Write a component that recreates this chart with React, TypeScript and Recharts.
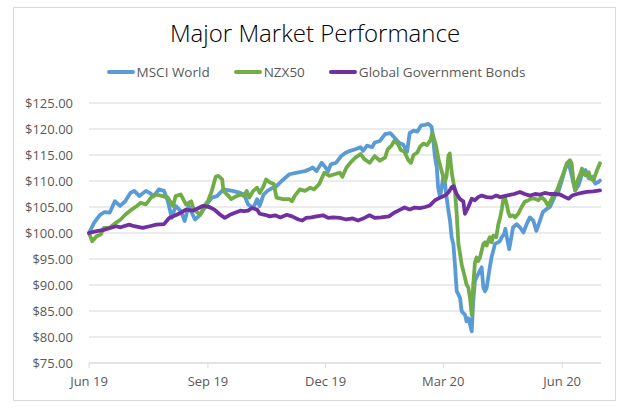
import { CartesianGrid, Line, LineChart, XAxis, YAxis } from "recharts";

// days counted from 1 Jun 2019
const tickDays = [0, 92, 183, 274, 366];
const tickLabels = ["Jun 19", "Sep 19", "Dec 19", "Mar 20", "Jun 20"];
const priceTicks = [75, 80, 85, 90, 95, 100, 105, 110, 115, 120, 125];

const msciWorld: [number, number][] = [
    [0, 100], [4, 102], [8.5, 103.5], [12, 104], [16, 103.9], [20, 106.1], [24, 105.2], [28, 106.1],
    [32, 107.7], [35, 108.1], [39, 107.1], [44, 108.1], [47, 107.7], [50, 107.1], [54, 108.4], [58, 108.1],
    [61, 106.1], [64, 102.9], [67, 105.2], [71, 104.2], [74, 102.3], [77, 105.2], [82, 102.6], [86, 103.5],
    [91, 105.5], [95, 106.8], [99, 107.1], [104, 108.4], [111, 108.1], [117, 107.7], [120, 107.4], [123, 105.5],
    [127, 104.8], [130, 106.5], [132, 105.2], [135, 107.4], [138, 108.1], [142, 108.7], [145, 109], [149, 110],
    [155, 111.3], [161, 111.6], [167, 111.9], [171, 112.3], [173, 112.6], [176, 111.9], [180, 113.5], [182, 112.9],
    [185, 111.9], [187, 113.2], [191, 113.5], [195, 114.8], [199, 115.5], [202, 115.8], [206, 116.1], [210, 116.5],
    [212, 115.8], [215, 116.8], [219, 116.5], [221, 117.4], [225, 117.7], [229, 119], [233, 119.2], [236, 118.4],
    [240, 117.3], [243, 117], [246, 115.6], [248, 119.2], [251, 119.7], [254, 119.5], [257, 120.7], [260, 120.8],
    [262.5, 121], [265, 120.4], [266, 118.5], [267.6, 114.6], [269, 112.6], [270, 108.8], [271.5, 106.9], [272.8, 108.8],
    [274, 110.8], [275.3, 109.5], [276.6, 106.9], [278, 104.3], [279.2, 102.4], [280.5, 99.1], [281.8, 97.9], [283, 94],
    [284.4, 88.8], [285.7, 88.2], [287, 87.5], [288.2, 85], [289.5, 84.6], [290.8, 84.3], [292, 83], [293.4, 83.6],
    [294.7, 82.4], [296, 81.1], [297.2, 86.9], [298.5, 90.8], [299.8, 91.5], [301, 92.1], [302.4, 92.8], [303.7, 93.4],
    [305, 89.5], [306.3, 88.8], [307.6, 89.5], [308.8, 91.5], [310, 93.4], [311.4, 95.4], [312.7, 96.6], [314, 97.9],
    [317, 98.3], [318, 98.5], [319.3, 99.2], [321, 99.8], [322, 100.8], [323.7, 98.5], [325, 96.9], [328, 101.1],
    [330.8, 101.7], [333.3, 101.1], [336, 100.1], [338.5, 101.7], [341, 103], [343.6, 102.4], [346, 100.4], [348.8, 102.4],
    [351, 104], [353.9, 104.6], [356.5, 105], [359, 106.3], [360.4, 107.2], [363, 107.9], [365.7, 110.1], [368.3, 112.4],
    [371, 113.4], [373.6, 110.8], [376, 108.2], [378.7, 109.2], [381, 111.1], [384, 112.1], [386.5, 110.5], [389, 110.8],
    [391.6, 109.5], [394, 109.8], [395.2, 110.1],
];

const nzx50: [number, number][] = [
    [0, 100], [2.5, 98.4], [6, 99.4], [9, 99.7], [11.5, 101], [16, 101], [21, 102], [24.5, 102.6],
    [28, 103.5], [33, 104.5], [37, 105.2], [40, 105.8], [44, 105.5], [48, 106.8], [52, 107.4], [57, 107.1],
    [61, 106.8], [65, 105.2], [67, 107.1], [71, 107.4], [75, 105.5], [79, 106.1], [81, 104.5], [86, 103.5],
    [90, 105.5], [92, 106.1], [95, 108.1], [98, 110.8], [100, 111], [103, 110.3], [104, 108.1], [108, 107.1],
    [110, 106.5], [114, 107.1], [118, 107.4], [120, 107.1], [122, 108.1], [124, 106.8], [127, 108.1], [130, 108.7],
    [132, 107.7], [135, 109], [137, 110.3], [140, 109.7], [143, 109.4], [145, 106.8], [150, 106.5], [155, 106.5],
    [157, 106.1], [159, 107.1], [163, 108.4], [167, 108.1], [171, 108.7], [174, 108.4], [178, 109.4], [182, 111.6],
    [186, 111], [190, 111.3], [194, 111.6], [196, 110.8], [199, 112.5], [202, 113.5], [206, 114.5], [210, 115.2],
    [213, 114.2], [217, 113.5], [221, 114.8], [225, 113.9], [229, 114.5], [231, 116.1], [234, 116.8], [236, 117.7],
    [239, 117.1], [241, 116], [244, 115.6], [247, 114], [249, 113.5], [251, 115], [254, 115.5], [256, 116.6],
    [258.8, 117.2], [261.4, 116.9], [264, 117.8], [265.5, 119.2], [268, 117.2], [270.5, 114], [273, 111.7], [275.3, 109.8],
    [276.6, 111], [278, 114.9], [279, 115.3], [280.5, 111.7], [281.8, 109.8], [283, 108.2], [284.4, 103.7], [285.7, 97.9],
    [287, 96], [288.2, 94], [289.5, 92.7], [290.8, 91.4], [292, 90.1], [293.4, 89.5], [294.7, 87.5], [296, 84.3],
    [297.2, 90.1], [298.5, 94.3], [299.8, 95.3], [301, 94.6], [302.4, 95.3], [303.7, 96.6], [305, 97.9], [306.3, 98.2],
    [307.6, 97.6], [308.8, 98.5], [310, 99.2], [311.4, 98.2], [312.7, 99.5], [315, 99.2], [316.6, 101.7], [318, 103],
    [319.3, 104.6], [320.5, 106.6], [321.7, 106.9], [323, 105.6], [324.3, 104], [325.6, 103.2], [328, 103.4], [329.5, 103],
    [332, 103.7], [334.6, 105], [337, 106], [340, 106.3], [342, 106.6], [345, 106.6], [347.5, 106.3], [350, 106.9],
    [352.6, 106.3], [355, 105.3], [356.5, 105.9], [359, 107.2], [362, 108.2], [364.3, 109.8], [366.9, 111.4], [369.5, 113.4],
    [372, 114], [373.3, 113.4], [374.6, 110.1], [376, 108.2], [377.4, 109.8], [380, 111.4], [381.3, 112.4], [382.6, 111.4],
    [384, 111.1], [386.5, 111.7], [387.8, 110.5], [390, 110.1], [393, 112.1], [395.2, 113.4],
];

const govBonds: [number, number][] = [
    [0, 100], [5, 100.3], [11.5, 100.6], [17, 101], [21, 101.3], [24.5, 101.1], [31, 101.6], [35, 101.3],
    [41.5, 101], [47, 101.3], [52, 101.6], [58, 101.7], [62, 102.9], [67, 103.4], [71, 103.9], [75, 104.5],
    [80, 104.3], [84, 104.7], [88, 105.2], [93, 105], [97, 104.5], [101, 103.6], [105, 102.9], [109, 103.5],
    [113, 103.9], [117, 104.3], [120, 104.2], [123, 104.3], [126, 104.8], [130, 104.5], [132, 103.7], [136, 103.5],
    [140, 103.2], [144, 103.4], [148, 103], [153, 103.5], [157, 103.2], [162, 102.6], [165, 102.4], [168, 102.9],
    [172, 103], [176, 103.2], [181, 103.4], [185, 102.9], [189, 103], [194, 102.9], [199, 102.6], [204, 102.8],
    [208, 102.4], [213, 102.9], [217, 103.4], [221, 102.9], [226, 103], [232, 103.2], [236, 103.9], [240, 104.4],
    [244, 104.9], [248, 104.5], [252, 104.9], [256, 104.8], [260, 105], [263.7, 105.3], [267.6, 106.3], [271.5, 106.8],
    [275.3, 107.2], [278, 107.8], [280.5, 108.8], [282, 109], [284.4, 107.5], [287, 106.5], [289.5, 106.1], [290.8, 103.7],
    [293.4, 105], [296, 106.6], [298.5, 106.3], [301, 106.9], [303.7, 107.2], [307.6, 106.9], [311.4, 106.8], [315, 107.2],
    [318, 106.9], [323, 107.2], [328.8, 107.5], [333.3, 107.9], [337, 107.5], [341, 107.2], [345, 107.5], [348.8, 107.4],
    [352.6, 107.7], [356.5, 107.5], [360.4, 107.5], [364.3, 107.4], [368.3, 106.9], [371, 106.6], [373.6, 107.2], [377.4, 107.5],
    [381, 107.7], [385, 107.9], [390, 108], [395.2, 108.2],
];

const series = [
    { name: "MSCI World", color: "#5B9BD5", values: msciWorld },
    { name: "NZX50", color: "#70AD47", values: nzx50 },
    { name: "Global Government Bonds", color: "#7030A0", values: govBonds },
];

const font = "'Open Sans', sans-serif";
const gray = "#595959";

const toPoints = (arr: [number, number][]) => arr.map(([day, value]) => ({ day, value }));

export default function App() {
    return (
        <div style={{ position: "absolute", left: 0, top: 0, width: 639, height: 411, background: "#fff", fontFamily: font }}>
            <div
                style={{
                    position: "absolute",
                    left: 13,
                    top: 7,
                    width: 601,
                    height: 392,
                    border: "1px solid #d9d9d9",
                }}
            />
            <div
                style={{
                    position: "absolute",
                    left: 0,
                    width: 630,
                    top: 17,
                    textAlign: "center",
                    fontSize: 24,
                    fontWeight: 300,
                    color: "#000",
                    lineHeight: "32px",
                }}
            >
                Major Market Performance
            </div>
            <div
                style={{
                    position: "absolute",
                    left: 0,
                    width: 632,
                    top: 63,
                    display: "flex",
                    justifyContent: "center",
                    gap: 24,
                    fontSize: 13.5,
                    color: gray,
                    lineHeight: "18px",
                }}
            >
                {series.map((s) => (
                    <div key={s.name} style={{ display: "flex", alignItems: "center" }}>
                        <span
                            style={{
                                display: "inline-block",
                                width: 28,
                                height: 4,
                                borderRadius: 2,
                                background: s.color,
                                marginRight: 2,
                            }}
                        />
                        {s.name}
                    </div>
                ))}
            </div>
            <div style={{ position: "absolute", left: 0, top: 0 }}>
                <LineChart width={639} height={411} margin={{ top: 103, right: 38, bottom: 18, left: 19 }}>
                    <CartesianGrid vertical={false} stroke="#d9d9d9" />
                    <XAxis
                        type="number"
                        dataKey="day"
                        domain={[0, 396]}
                        ticks={tickDays}
                        tickFormatter={(d: number) => tickLabels[tickDays.indexOf(d)] ?? ""}
                        stroke="#d9d9d9"
                        tickSize={5}
                        tickMargin={9}
                        height={30}
                        tick={{ fill: gray, fontSize: 13, fontFamily: font }}
                        allowDuplicatedCategory={false}
                    />
                    <YAxis
                        type="number"
                        domain={[75, 125]}
                        ticks={priceTicks}
                        tickFormatter={(v: number) => `$${v.toFixed(2)}`}
                        axisLine={false}
                        tickLine={false}
                        tickSize={0}
                        tickMargin={16}
                        width={70}
                        tick={{ fill: gray, fontSize: 13, fontFamily: font }}
                    />
                    {series.map((s) => (
                        <Line
                            key={s.name}
                            data={toPoints(s.values)}
                            dataKey="value"
                            name={s.name}
                            type="linear"
                            stroke={s.color}
                            strokeWidth={3.8}
                            strokeLinejoin="round"
                            strokeLinecap="round"
                            dot={false}
                            isAnimationActive={false}
                        />
                    ))}
                </LineChart>
            </div>
        </div>
    );
}
